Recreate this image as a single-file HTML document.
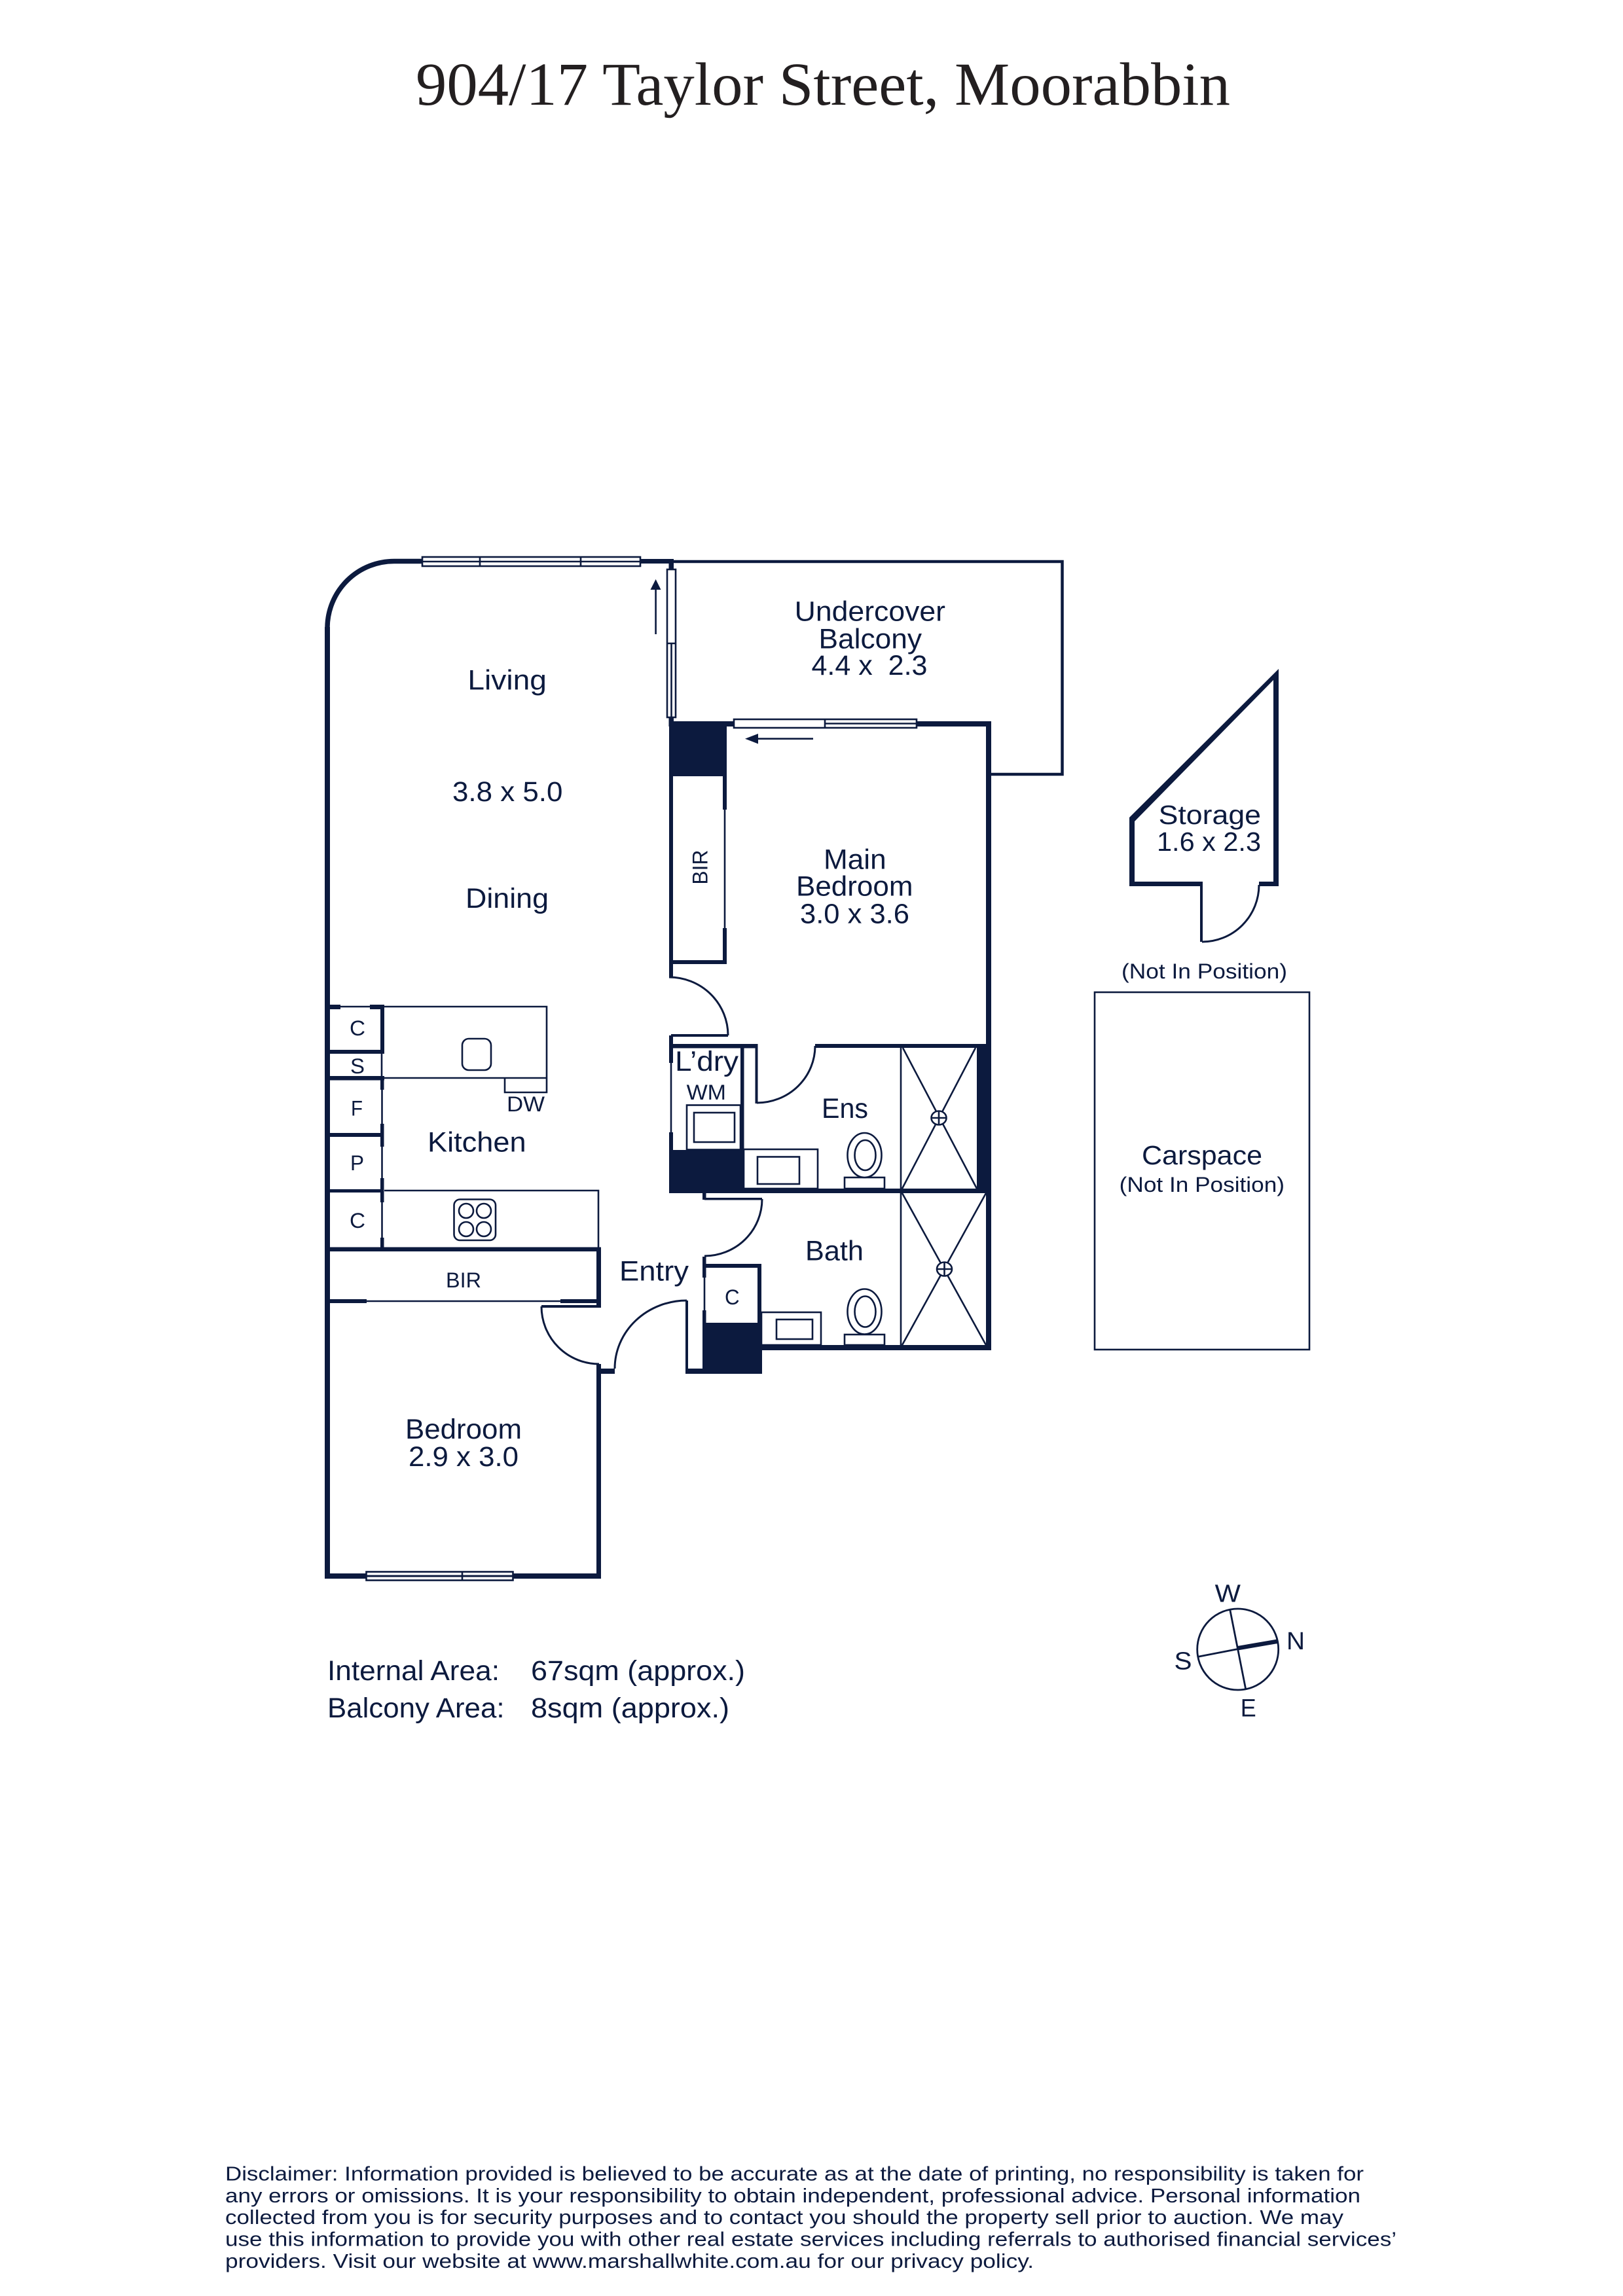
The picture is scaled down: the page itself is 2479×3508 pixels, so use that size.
<!DOCTYPE html>
<html><head><meta charset="utf-8"><style>
html,body{margin:0;padding:0;background:#fff}
svg{display:block}
text{font-family:"Liberation Sans",sans-serif;fill:#0c1a3e;font-size:43px}
.s{font-size:32px}.m{font-size:41px}.d{font-size:31px}
.t{font-family:"Liberation Serif",serif;fill:#231f20;font-size:93px}
.w{fill:#0c1a3e}
.l{fill:none;stroke:#0c1a3e;stroke-width:2.6}
.a{fill:none;stroke:#0c1a3e;stroke-width:3}
.b{fill:#fff;stroke:#0c1a3e;stroke-width:2.6}
</style></head><body>
<svg width="2479" height="3508" viewBox="0 0 2479 3508" xmlns="http://www.w3.org/2000/svg">
<rect width="2479" height="3508" fill="#fff"/>
<text class="t" x="635" y="160" textLength="1244" lengthAdjust="spacingAndGlyphs">904/17 Taylor Street, Moorabbin</text>

<!-- balcony -->
<path d="M1029 858H1622.5V1183H1510" fill="none" stroke="#0c1a3e" stroke-width="4.5"/>

<!-- outer left wall + curve -->
<rect class="w" x="496" y="958" width="8" height="1454"/>
<path d="M500 958A102 102 0 0 1 602 857.5H646" fill="none" stroke="#0c1a3e" stroke-width="7.5"/>
<rect class="w" x="978" y="854" width="51" height="7"/>
<rect class="w" x="1021.5" y="854" width="7.5" height="16"/>
<rect class="w" x="1021.5" y="1096" width="7.5" height="14"/>

<!-- top window -->
<rect class="b" x="645" y="851" width="333" height="14"/>
<path class="l" d="M645 858H978M733 851V865M887 851V865"/>
<!-- balcony sliding door vertical -->
<rect class="b" x="1019" y="870" width="13" height="226"/>
<path class="l" d="M1019 983H1032M1025.5 983V1096"/>
<path d="M1001.6 969V895" class="l"/>
<polygon class="w" points="1001.6,885 993.5,901 1009.5,901"/>
<!-- main bedroom window -->
<rect class="w" x="1022" y="1102" width="492" height="8"/>
<rect class="b" x="1121" y="1099" width="279" height="13"/>
<path class="l" d="M1260 1099V1112M1260 1105.5H1400"/>
<path class="l" d="M1242 1128.7H1150"/>
<polygon class="w" points="1138,1128.7 1158,1121 1158,1136.5"/>
<rect class="w" x="1506" y="1102" width="8" height="961"/>

<!-- black block top + BIR -->
<rect class="w" x="1022" y="1102" width="88" height="84"/>
<rect class="w" x="1022" y="1186" width="6" height="307"/>
<rect class="w" x="1022" y="1467" width="88" height="6"/>
<rect class="w" x="1104" y="1186" width="6" height="51"/>
<rect class="w" x="1104" y="1418" width="6" height="52"/>
<path class="l" d="M1107 1237V1418"/>
<text class="s" transform="translate(1080.7,1351.6) rotate(-90)" textLength="53" lengthAdjust="spacingAndGlyphs">BIR</text>

<!-- main bedroom door -->
<path class="a" d="M1022 1493A90 89 0 0 1 1112 1582"/>
<rect class="w" x="1025" y="1580" width="87" height="4"/>

<!-- laundry -->
<rect class="w" x="1022" y="1582" width="6" height="42"/>
<rect class="w" x="1022" y="1595" width="134" height="6.5"/>
<path class="l" d="M1025 1624V1730"/>
<rect class="w" x="1022" y="1730" width="6" height="30"/>
<rect class="w" x="1022" y="1757" width="114" height="65"/>
<rect class="w" x="1131" y="1598" width="5.5" height="160"/>
<rect class="w" x="1153.5" y="1595" width="4" height="91"/>
<rect class="b" x="1049" y="1688.5" width="82" height="68"/>
<rect class="b" x="1060" y="1700" width="62" height="45"/>

<!-- ensuite -->
<path class="a" d="M1156 1685A89 87 0 0 0 1245 1598"/>
<rect class="w" x="1245" y="1595" width="261" height="6"/>
<rect class="w" x="1492" y="1601" width="14" height="217"/>
<rect class="w" x="1022" y="1816" width="492" height="7"/>
<path class="l" d="M1376 1601V1816M1379 1601L1492 1816M1490 1601L1378 1816"/>
<ellipse class="b" cx="1434" cy="1708" rx="11.5" ry="10.5"/>
<path class="l" d="M1422.5 1708H1445.5M1434 1697.5V1718.5"/>
<rect class="b" x="1136" y="1756" width="113" height="60"/>
<rect class="b" x="1157" y="1767.5" width="64" height="41.5"/>
<rect class="b" x="1290" y="1799" width="61" height="17"/>
<ellipse class="b" cx="1320.5" cy="1765" rx="26" ry="34"/>
<ellipse class="b" cx="1321.5" cy="1765" rx="16" ry="23"/>

<!-- bath -->
<rect class="w" x="1073" y="1822" width="5.5" height="11"/>
<rect class="w" x="1076" y="1830" width="88" height="3.5"/>
<path class="a" d="M1164 1832A88 87 0 0 1 1076 1919"/>
<rect class="w" x="1073" y="1920" width="5.5" height="32"/>
<rect class="w" x="1073" y="1931" width="90" height="6"/>
<path class="l" d="M1076 1952V2002"/>
<rect class="w" x="1073" y="2002" width="5.5" height="20"/>
<rect class="w" x="1157" y="1931" width="6" height="91"/>
<rect class="w" x="1073" y="2021" width="91" height="78"/>
<rect class="w" x="1047" y="1987" width="4" height="110"/>
<rect class="w" x="1047" y="2091" width="30" height="8"/>
<rect class="w" x="1163" y="2055" width="351" height="8"/>
<path class="l" d="M1376 1823V2055M1378 1823L1506 2055M1506 1823L1378 2055"/>
<ellipse class="b" cx="1442.5" cy="1939" rx="11.5" ry="10.5"/>
<path class="l" d="M1431 1939H1454M1442.5 1928.5V1949.5"/>
<rect class="b" x="1163" y="2005" width="91" height="50"/>
<rect class="b" x="1186" y="2016" width="55" height="30"/>
<rect class="b" x="1290" y="2039" width="61" height="16"/>
<ellipse class="b" cx="1320.5" cy="2004" rx="26" ry="34.5"/>
<ellipse class="b" cx="1321.5" cy="2004" rx="16" ry="23.5"/>

<!-- entry door -->
<path class="a" d="M939 2091A110 104 0 0 1 1049 1987"/>
<rect class="w" x="911" y="2091" width="28" height="8"/>

<!-- bedroom -->
<path class="a" d="M827 1996A88 88 0 0 0 915 2084"/>
<rect class="w" x="827" y="1994" width="91" height="4"/>
<rect class="w" x="911" y="2084" width="7" height="328"/>
<rect class="w" x="496" y="2404" width="422" height="8"/>
<rect class="b" x="559.5" y="2401.5" width="224" height="13"/>
<rect class="w" x="559.5" y="2406.5" width="224" height="3"/>
<path class="l" d="M706 2401.5V2414.5"/>

<!-- kitchen -->
<rect class="w" x="504" y="1535" width="16" height="7"/>
<rect class="w" x="565" y="1535" width="22" height="7"/>
<path class="l" d="M520 1538H835V1647H587M771 1647V1669H835V1647"/>
<rect class="w" x="581" y="1535" width="6" height="75"/>
<rect class="w" x="504" y="1604" width="83" height="6"/>
<path class="l" d="M583 1610V1647"/>
<rect class="w" x="504" y="1644" width="83" height="6.5"/>
<rect class="w" x="581" y="1647" width="5.5" height="18"/>
<path class="l" d="M583.5 1665V1717"/>
<rect class="w" x="581" y="1717" width="5.5" height="35"/>
<rect class="w" x="504" y="1731" width="78" height="6"/>
<path class="l" d="M583.5 1752V1800"/>
<rect class="w" x="581" y="1800" width="5.5" height="37"/>
<rect class="w" x="504" y="1817" width="78" height="5"/>
<path class="l" d="M583.5 1837V1891"/>
<rect class="w" x="581" y="1891" width="5.5" height="17"/>
<path class="l" d="M587 1819H914V1906"/>
<rect class="w" x="504" y="1905.5" width="414" height="6.5"/>
<rect x="706" y="1587" width="44" height="48" rx="10" class="b"/>
<rect x="693.5" y="1832.5" width="63.5" height="62.5" rx="9" class="b"/>
<circle class="b" cx="712" cy="1850" r="11"/><circle class="b" cx="739" cy="1850" r="11"/>
<circle class="b" cx="712" cy="1878" r="11"/><circle class="b" cx="739" cy="1878" r="11"/>
<rect class="w" x="911" y="1905.5" width="7" height="92"/>
<rect class="w" x="504" y="1985" width="56" height="6"/>
<path class="l" d="M560 1988H856"/>
<rect class="w" x="856" y="1985" width="55" height="6"/>

<!-- storage -->
<path class="w" fill-rule="evenodd" d="M1953 1022V1354H1923V1347H1945V1039L1733 1255V1347H1837V1439H1833V1354H1725V1249Z"/>
<path class="a" d="M1836 1439A87 87 0 0 0 1923 1352"/>

<!-- carspace -->
<rect x="1672" y="1516" width="328" height="546" fill="none" stroke="#0c1a3e" stroke-width="2.6"/>

<!-- compass -->
<circle cx="1890.7" cy="2520" r="62" fill="none" stroke="#0c1a3e" stroke-width="2.8"/>
<path fill="none" stroke="#0c1a3e" stroke-width="2.8" d="M1878.7 2459.3L1902.7 2580.7M1830 2531.3L1890.7 2519.5"/>
<path fill="none" stroke="#0c1a3e" stroke-width="6.5" d="M1890 2518.3L1951.7 2507.7"/>

<!-- labels -->
<text x="714.4" y="1053.7" textLength="120.6" lengthAdjust="spacingAndGlyphs">Living</text>
<text x="691" y="1224" textLength="168.4" lengthAdjust="spacingAndGlyphs">3.8 x 5.0</text>
<text x="711" y="1387" textLength="127" lengthAdjust="spacingAndGlyphs">Dining</text>
<text class="s" x="534" y="1582" textLength="24" lengthAdjust="spacingAndGlyphs">C</text>
<text class="s" x="535" y="1640" textLength="22" lengthAdjust="spacingAndGlyphs">S</text>
<text class="s" x="536" y="1704.5" textLength="18" lengthAdjust="spacingAndGlyphs">F</text>
<text class="s" x="535" y="1788" textLength="21" lengthAdjust="spacingAndGlyphs">P</text>
<text class="s" x="534" y="1876" textLength="24" lengthAdjust="spacingAndGlyphs">C</text>
<text x="653" y="1759.6" textLength="150.6" lengthAdjust="spacingAndGlyphs">Kitchen</text>
<text class="s" x="774" y="1698" textLength="58" lengthAdjust="spacingAndGlyphs">DW</text>
<text class="s" x="681" y="1967" textLength="54" lengthAdjust="spacingAndGlyphs">BIR</text>
<text x="946" y="1956.5" textLength="106" lengthAdjust="spacingAndGlyphs">Entry</text>
<text x="619" y="2198" textLength="178" lengthAdjust="spacingAndGlyphs">Bedroom</text>
<text x="624" y="2240" textLength="168" lengthAdjust="spacingAndGlyphs">2.9 x 3.0</text>
<text x="1031" y="1636" textLength="97" lengthAdjust="spacingAndGlyphs">L’dry</text>
<text class="s" x="1048.6" y="1680" textLength="60.4" lengthAdjust="spacingAndGlyphs">WM</text>
<text x="1255" y="1708" textLength="71" lengthAdjust="spacingAndGlyphs">Ens</text>
<text x="1230" y="1925.7" textLength="89" lengthAdjust="spacingAndGlyphs">Bath</text>
<text class="s" x="1107" y="1993" textLength="22.6" lengthAdjust="spacingAndGlyphs">C</text>
<text x="1213.7" y="948.5" textLength="230.3" lengthAdjust="spacingAndGlyphs">Undercover</text>
<text x="1250.5" y="990.5" textLength="157.5" lengthAdjust="spacingAndGlyphs">Balcony</text>
<text x="1239.5" y="1031" textLength="177" lengthAdjust="spacingAndGlyphs">4.4 x &#160;2.3</text>
<text class="m" x="1769.6" y="1259" textLength="156.4" lengthAdjust="spacingAndGlyphs">Storage</text>
<text class="m" x="1767" y="1300" textLength="159" lengthAdjust="spacingAndGlyphs">1.6 x 2.3</text>
<text x="1258" y="1327.5" textLength="95.6" lengthAdjust="spacingAndGlyphs">Main</text>
<text x="1216" y="1368.6" textLength="178.5" lengthAdjust="spacingAndGlyphs">Bedroom</text>
<text x="1222" y="1410.5" textLength="167" lengthAdjust="spacingAndGlyphs">3.0 x 3.6</text>
<text class="s" x="1713" y="1495" textLength="253" lengthAdjust="spacingAndGlyphs">(Not In Position)</text>
<text class="m" x="1744" y="1779" textLength="184" lengthAdjust="spacingAndGlyphs">Carspace</text>
<text class="s" x="1709.7" y="1821" textLength="252.3" lengthAdjust="spacingAndGlyphs">(Not In Position)</text>
<text x="500" y="2567" textLength="263" lengthAdjust="spacingAndGlyphs">Internal Area:</text>
<text x="811" y="2567" textLength="327" lengthAdjust="spacingAndGlyphs">67sqm (approx.)</text>
<text x="500" y="2624" textLength="270.5" lengthAdjust="spacingAndGlyphs">Balcony Area:</text>
<text x="811" y="2624" textLength="303" lengthAdjust="spacingAndGlyphs">8sqm (approx.)</text>
<text style="font-size:38px" x="1855.7" y="2447.7" textLength="39.3" lengthAdjust="spacingAndGlyphs">W</text>
<text style="font-size:38px" x="1965" y="2520" textLength="28" lengthAdjust="spacingAndGlyphs">N</text>
<text style="font-size:38px" x="1793.5" y="2550.7" textLength="27" lengthAdjust="spacingAndGlyphs">S</text>
<text style="font-size:38px" x="1894.7" y="2622.7" textLength="24" lengthAdjust="spacingAndGlyphs">E</text>

<text class="d" x="344" y="3331.7" textLength="1739" lengthAdjust="spacingAndGlyphs">Disclaimer: Information provided is believed to be accurate as at the date of printing, no responsibility is taken for</text>
<text class="d" x="344" y="3365" textLength="1734" lengthAdjust="spacingAndGlyphs">any errors or omissions. It is your responsibility to obtain independent, professional advice. Personal information</text>
<text class="d" x="344" y="3398" textLength="1708" lengthAdjust="spacingAndGlyphs">collected from you is for security purposes and to contact you should the property sell prior to auction. We may</text>
<text class="d" x="344" y="3431.7" textLength="1789" lengthAdjust="spacingAndGlyphs">use this information to provide you with other real estate services including referrals to authorised financial services’</text>
<text class="d" x="344" y="3465" textLength="1235" lengthAdjust="spacingAndGlyphs">providers. Visit our website at www.marshallwhite.com.au for our privacy policy.</text>
</svg>
</body></html>
